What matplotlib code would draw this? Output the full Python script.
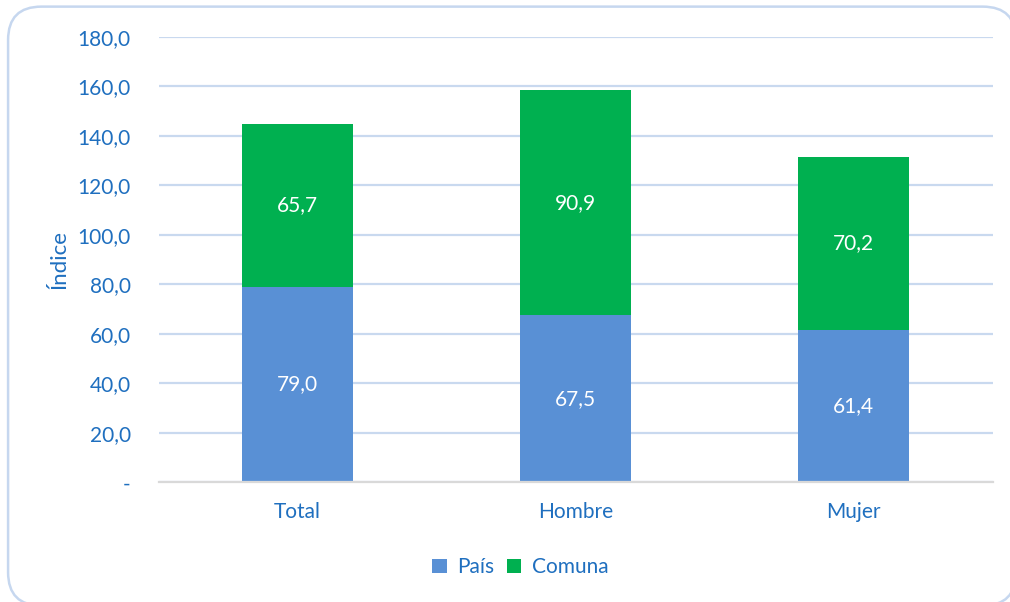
import matplotlib.pyplot as plt
from matplotlib.patches import FancyBboxPatch
from matplotlib.ticker import FuncFormatter

plt.rcParams['font.family'] = ['Lato', 'DejaVu Sans']

categories = ['Total', 'Hombre', 'Mujer']
pais = [79.0, 67.5, 61.4]
comuna = [65.7, 90.9, 70.2]

blue = '#5990D5'
green = '#00B050'
txt = '#1F6FBF'

fig = plt.figure(figsize=(10.1, 6.02), dpi=100)
ax = fig.add_axes([0.157, 0.199, 0.826, 0.7395])

# rounded frame around the whole chart (runs a bit past the right and bottom edges)
frame = FancyBboxPatch((0.008, -0.006), 0.998, 0.995, boxstyle='round,pad=0,rounding_size=0.033',
                       transform=fig.transFigure, facecolor='white', edgecolor='#C6D7EF',
                       linewidth=1.8, mutation_aspect=1010 / 602, zorder=-10)
fig.patches.append(frame)
ax.set_facecolor('none')

x = range(len(categories))
b1 = ax.bar(x, pais, width=0.4, color=blue, label='País', zorder=3)
b2 = ax.bar(x, comuna, width=0.4, bottom=pais, color=green, label='Comuna', zorder=3)

for rect, v in zip(b1, pais):
    ax.text(rect.get_x() + rect.get_width() / 2, v / 2, f'{v:.1f}'.replace('.', ','),
            ha='center', va='center', color='white', fontsize=15, zorder=4)
for rect, v, b in zip(b2, comuna, pais):
    ax.text(rect.get_x() + rect.get_width() / 2, b + v / 2, f'{v:.1f}'.replace('.', ','),
            ha='center', va='center', color='white', fontsize=15, zorder=4)

ax.set_xlim(-0.5, 2.5)
ax.set_ylim(0, 180)
ax.set_yticks(range(0, 181, 20))
ax.yaxis.set_major_formatter(FuncFormatter(lambda v, p: '-' if v == 0 else f'{v:.1f}'.replace('.', ',')))
ax.set_xticks(list(x))
ax.set_xticklabels(categories)
ax.tick_params(axis='both', length=0, labelsize=15, labelcolor=txt)
ax.tick_params(axis='y', pad=20)
ax.tick_params(axis='x', pad=14)
ax.grid(axis='y', color='#C9D9EF', linewidth=1.6, zorder=0)
for s in ['top', 'right', 'left']:
    ax.spines[s].set_visible(False)
ax.spines['bottom'].set_color('#D9D9D9')
ax.spines['bottom'].set_linewidth(1.6)
ax.spines['bottom'].set_zorder(3.5)

ax.set_ylabel('Índice', fontsize=16, color=txt)
ax.yaxis.set_label_coords(-0.107, 0.5)

fig.legend(handles=[b1, b2], labels=['País', 'Comuna'], loc='center', bbox_to_anchor=(0.515, 0.058),
           ncol=2, frameon=False, fontsize=15, labelcolor=txt, handlelength=0.7, handleheight=0.7,
           handletextpad=0.5, columnspacing=0.6)

fig.savefig('out.png', dpi=100)
